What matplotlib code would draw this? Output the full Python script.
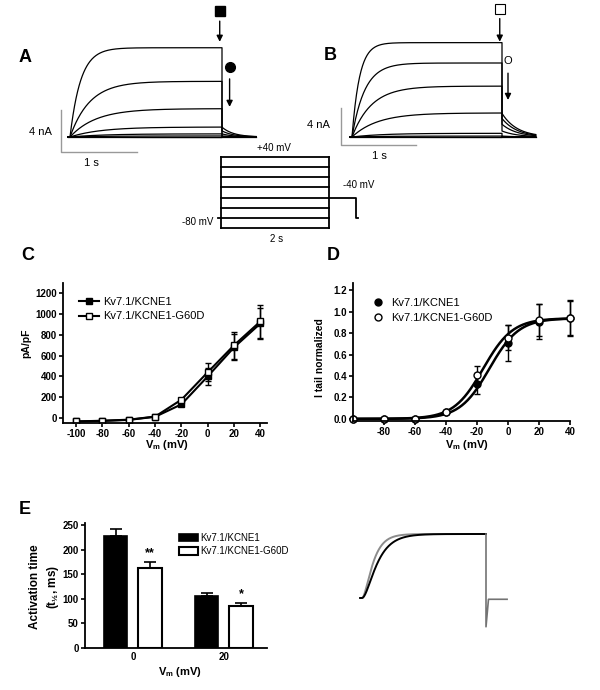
import numpy as np
import matplotlib

matplotlib.use("Agg")
import matplotlib.pyplot as plt  # noqa: E402
from matplotlib.lines import Line2D  # noqa: E402
from matplotlib.patches import Patch  # noqa: E402

plt.rcParams["font.family"] = ["Liberation Sans", "DejaVu Sans"]
plt.rcParams["mathtext.fontset"] = "custom"
plt.rcParams["mathtext.rm"] = "Liberation Sans"
plt.rcParams["mathtext.bf"] = "Liberation Sans:bold"
plt.rcParams["mathtext.it"] = "Liberation Sans:italic"
plt.rcParams["axes.unicode_minus"] = False

W, H = 600, 690

# ---- data ------------------------------------------------------------------
LABELS = ["Kv7.1/KCNE1", "Kv7.1/KCNE1-G60D"]

# pulse protocol (mV, s)
step_mv = [40, 20, 0, -20, -40, -60, -80, -100]
hold_mv = -80
tail_mv = -40
pulse_s = 2.0
tail_s = 0.45
proto_tail_s = 0.5

# A / B raw currents: plateau per step (nA) and activation tau (s)
a_level = [8.5, 5.3, 2.7, 0.95, 0.3, 0.1, 0.0, -0.05]
a_tau = [0.14, 0.26, 0.34, 0.4, 0.45, 0.45, 0.45, 0.45]
a_tail_ratio, a_tail_tau = 0.11, 0.15
b_level = [10.2, 8.0, 5.5, 2.6, 0.4, 0.1, 0.0, -0.05]
b_tau = [0.1, 0.17, 0.26, 0.34, 0.4, 0.4, 0.4, 0.4]
b_tail_ratio, b_tail_tau = 0.25, 0.2

# C: current density (pA/pF)
vm = [-100, -80, -60, -40, -20, 0, 20, 40]
dens_wt = [-35, -30, -20, 10, 130, 400, 680, 910]
dens_wt_sem = [5, 5, 5, 5, 20, 85, 125, 150]
dens_mut = [-35, -28, -18, 12, 175, 440, 700, 930]
dens_mut_sem = [5, 5, 5, 5, 20, 85, 130, 160]

# D: normalized tail current + Boltzmann fits (V1/2, k, top)
tail_wt = [0.0, 0.0, 0.0, 0.06, 0.33, 0.71, 0.91, 0.94]
tail_wt_sem = [0.0, 0.0, 0.0, 0.01, 0.10, 0.17, 0.16, 0.16]
tail_mut = [0.0, 0.0, 0.0, 0.06, 0.41, 0.76, 0.92, 0.94]
tail_mut_sem = [0.0, 0.0, 0.0, 0.01, 0.08, 0.12, 0.15, 0.17]
fit_wt = (-12.0, 9.5, 0.94)
fit_mut = (-16.0, 9.5, 0.94)

# E: activation half time (ms)
e_groups = ["0", "20"]
t12_wt = [228, 107]
t12_wt_err = [14, 6]
t12_mut = [163, 85]
t12_mut_err = [13, 7]
e_stars = ["**", "*"]

# inset: normalized traces, tail artefact
inset_tail_min = -0.45
inset_tail_level = -0.02
inset_tail_s = 0.34

fig = plt.figure(figsize=(6, 6.9), dpi=100)


def px_axes(x0, y0, x1, y1):
    return fig.add_axes([x0 / W, 1 - y1 / H, (x1 - x0) / W, (y1 - y0) / H])


def trace_axes(box, ox, oy, sx, sy):
    ax = px_axes(*box)
    x0, y0, x1, y1 = box
    ax.set_xlim((x0 - ox) / sx, (x1 - ox) / sx)
    ax.set_ylim((oy - y1) / sy, (oy - y0) / sy)
    ax.axis("off")
    return ax


def ftext(x, y, s, **kw):
    kw.setdefault("ha", "center")
    kw.setdefault("va", "center")
    fig.text(x / W, 1 - y / H, s, **kw)


def style(ax):
    for s in ("top", "right"):
        ax.spines[s].set_visible(False)
    for s in ("left", "bottom"):
        ax.spines[s].set_linewidth(1.3)
    ax.tick_params(direction="out", length=3, width=1.2, labelsize=7, pad=1.5)
    for lab in ax.get_xticklabels() + ax.get_yticklabels():
        lab.set_fontweight("bold")


def draw_traces(ax, levels, taus, ratio, ttau):
    t = np.linspace(0, pulse_s, 300)
    tt = np.linspace(0, tail_s, 80)
    for L, tau in zip(levels, taus):
        rise = L * (1 - np.exp(-t / tau))
        tail = rise[-1] * ratio * np.exp(-tt / ttau)
        ax.plot(np.concatenate([[-0.03], t, pulse_s + tt]),
                np.concatenate([[0], rise, tail]), color="k", lw=0.9)


def scale_bar(ax, t0, i0, ds, di):
    ax.plot([t0, t0, t0 + ds], [i0 + di, i0, i0], color="0.6", lw=1)


# ---- A ----------------------------------------------------------------------
axA = trace_axes((0, 0, 300, 175), 70, 137, 76, 10.5)
draw_traces(axA, a_level, a_tau, a_tail_ratio, a_tail_tau)
scale_bar(axA, -0.12, -1.43, 1, 4)
axA.plot(1.97, 12.0, "s", color="k", ms=7, clip_on=False)
axA.annotate("", xy=(1.97, 8.8), xytext=(1.97, 11.3),
             arrowprops=dict(arrowstyle="-|>", color="k", lw=1, mutation_scale=9))
axA.plot(2.1, 6.7, "o", color="k", ms=7, clip_on=False)
axA.annotate("", xy=(2.1, 2.6), xytext=(2.1, 5.8),
             arrowprops=dict(arrowstyle="-|>", color="k", lw=1, mutation_scale=9))

# ---- B ----------------------------------------------------------------------
axB = trace_axes((300, 0, 600, 175), 352, 137, 75, 9.25)
draw_traces(axB, b_level, b_tau, b_tail_ratio, b_tail_tau)
scale_bar(axB, -0.15, -0.86, 1, 4)
axB.plot(1.97, 13.8, "s", color="k", mfc="white", ms=7, mew=0.8, clip_on=False)
axB.annotate("", xy=(1.97, 10.0), xytext=(1.97, 13.1),
             arrowprops=dict(arrowstyle="-|>", color="k", lw=1, mutation_scale=9))
axB.text(2.08, 8.2, "O", ha="center", va="center", fontsize=8)
axB.annotate("", xy=(2.08, 3.7), xytext=(2.08, 7.2),
             arrowprops=dict(arrowstyle="-|>", color="k", lw=1, mutation_scale=9))

# ---- protocol ---------------------------------------------------------------
axP = trace_axes((150, 140, 380, 250), 221, 177.3, 54, 0.507)
for v in step_mv:
    axP.plot([0, pulse_s], [v, v], color="k", lw=1.3)
for x in (0, pulse_s):
    axP.plot([x, x], [min(step_mv), max(step_mv)], color="k", lw=1.3)
axP.plot([-0.06, 0], [hold_mv, hold_mv], color="k", lw=1.3)
xe = pulse_s + proto_tail_s
axP.plot([pulse_s, xe, xe, xe + 0.04], [tail_mv, tail_mv, hold_mv, hold_mv],
         color="k", lw=1.3)

# ---- C ----------------------------------------------------------------------
axC = px_axes(63, 283, 267, 423)
axC.errorbar(vm, dens_wt, yerr=dens_wt_sem, fmt="-s", color="k", mfc="k",
             ms=4.5, lw=1.5, elinewidth=1, capsize=2.2, capthick=1)
axC.errorbar(vm, dens_mut, yerr=dens_mut_sem, fmt="-s", color="k", mfc="white",
             ms=4.5, lw=1.5, elinewidth=1, capsize=2.2, capthick=1)
axC.set_xlim(-110, 45)
axC.set_ylim(-50, 1300)
axC.set_xticks(range(-100, 41, 20))
axC.set_yticks(range(0, 1201, 200))
style(axC)
hC = [Line2D([], [], color="k", marker="s", ms=4.5, lw=1.5, mfc=f)
      for f in ("k", "white")]
axC.legend(hC, LABELS, loc="upper left", bbox_to_anchor=(0.08, 0.9), frameon=False,
           fontsize=8, handlelength=1.8, handletextpad=0.3, borderpad=0,
           borderaxespad=0, labelspacing=0.4)

# ---- D ----------------------------------------------------------------------
axD = px_axes(353, 283, 570, 421)
vfit = np.linspace(-100, 40, 300)
for (vh, k, top) in (fit_wt, fit_mut):
    axD.plot(vfit, top / (1 + np.exp((vh - vfit) / k)), color="k", lw=1.8)
axD.errorbar(vm, tail_wt, yerr=tail_wt_sem, fmt="o", color="k", mfc="k",
             ms=5, elinewidth=1, capsize=2.2, capthick=1, clip_on=False)
axD.errorbar(vm, tail_mut, yerr=tail_mut_sem, fmt="o", color="k", mfc="white",
             ms=5, elinewidth=1, capsize=2.2, capthick=1, clip_on=False)
axD.set_xlim(-100, 40)
axD.set_ylim(-0.02, 1.27)
axD.set_xticks(range(-80, 41, 20))
axD.set_yticks(np.arange(0, 1.21, 0.2))
axD.set_yticklabels([f"{v:.1f}" for v in np.arange(0, 1.21, 0.2)])
style(axD)
hD = [Line2D([], [], color="k", marker="o", ls="none", ms=5, mfc=f)
      for f in ("k", "white")]
axD.legend(hD, LABELS, loc="upper left", bbox_to_anchor=(0.09, 0.89), frameon=False,
           fontsize=8, handlelength=1.0, handletextpad=0.7, borderpad=0,
           borderaxespad=0, labelspacing=0.45)

# ---- E ----------------------------------------------------------------------
axE = px_axes(85, 523, 267, 648)
x = np.arange(len(e_groups))
w, off = 0.26, 0.19
axE.bar(x - off, t12_wt, w, color="k", edgecolor="k", lw=1.2,
        yerr=[[0] * len(x), t12_wt_err], error_kw=dict(capsize=4, elinewidth=1.2, capthick=1.2))
axE.bar(x + off, t12_mut, w, color="white", edgecolor="k", lw=1.5,
        yerr=[[0] * len(x), t12_mut_err], error_kw=dict(capsize=4, elinewidth=1.2, capthick=1.2))
for xi, top, err, s in zip(x, t12_mut, t12_mut_err, e_stars):
    axE.text(xi + off, top + err + 5, s, ha="center", va="bottom",
             fontsize=9, fontweight="bold")
axE.set_xlim(-0.527, 1.473)
axE.set_ylim(0, 255)
axE.set_xticks(x)
axE.set_xticklabels(e_groups)
axE.set_yticks(range(0, 251, 50))
style(axE)
axE.tick_params(axis="x", length=0, pad=3)
hE = [Patch(facecolor="k", edgecolor="k", lw=1.2), Patch(facecolor="white", edgecolor="k", lw=1.5)]
axE.legend(hE, LABELS, loc="upper left", bbox_to_anchor=(0.516, 0.92), frameon=False,
           fontsize=7, handlelength=2.0, handleheight=0.8, handletextpad=0.2,
           borderpad=0, borderaxespad=0, labelspacing=0.35)

# ---- inset: normalized traces -----------------------------------------------
axI = trace_axes((340, 500, 560, 660), 362, 598, 62, 64)
t = np.linspace(0, pulse_s, 400)
for t12, col in ((t12_mut[0], "0.55"), (t12_wt[0], "k")):
    tau = t12 / 1000 / -np.log(1 - np.sqrt(0.5))
    axI.plot(np.concatenate([[-0.03], t]), np.concatenate([[0], (1 - np.exp(-t / tau)) ** 2]),
             color=col, lw=1.4)
axI.plot([pulse_s, pulse_s, pulse_s + 0.04, pulse_s + inset_tail_s],
         [1, inset_tail_min, inset_tail_level, inset_tail_level], color="0.45", lw=1.2)

# ---- text -------------------------------------------------------------------
for s, px, py in (("A", 25, 57), ("B", 330, 55), ("C", 28, 256), ("D", 333, 256), ("E", 25, 510)):
    ftext(px, py, s, fontsize=13, fontweight="bold")
ftext(40, 132, "4 nA", fontsize=8)
ftext(91, 163, "1 s", fontsize=8)
ftext(318, 125, "4 nA", fontsize=8)
ftext(379, 156, "1 s", fontsize=8)
ftext(274, 148, "+40 mV", fontsize=7)
ftext(359, 185, "-40 mV", fontsize=7)
ftext(213, 222, "-80 mV", fontsize=7, ha="right")
ftext(277, 239, "2 s", fontsize=7)
vlab = r"$\mathbf{V_m}$ (mV)"
ftext(167, 445, vlab, fontsize=8, fontweight="bold")
ftext(467, 445, vlab, fontsize=8, fontweight="bold")
ftext(180, 672, vlab, fontsize=8, fontweight="bold")
ftext(26, 343, "pA/pF", fontsize=7.5, fontweight="bold", rotation=90)
ftext(320, 358, "I tail normalized", fontsize=7.5, fontweight="bold", rotation=90)
ftext(45, 587, "Activation time\n" + r"(t$_{\mathbf{½}}$, ms)", fontsize=8.5,
      fontweight="bold", rotation=90, linespacing=1.3)

fig.savefig("out.png", dpi=100)
